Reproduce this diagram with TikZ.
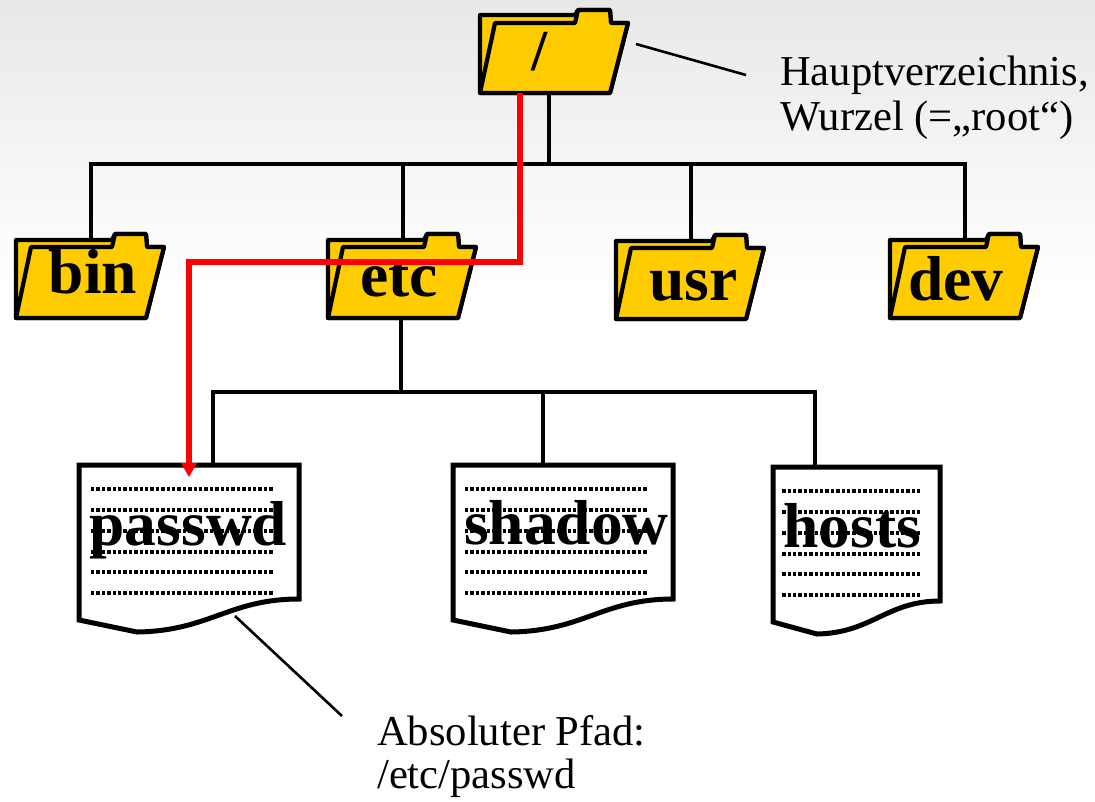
\documentclass[tikz,border=0pt]{standalone}
\usepackage{fontspec}
\setmainfont{Liberation Serif}
\usepackage{tikz}
\usetikzlibrary{positioning}
\definecolor{foldergold}{RGB}{255,204,0}
\definecolor{bgtop}{RGB}{232,232,232}
\tikzset{
	folderline/.style={draw=black, line width=4.2pt, line join=round, fill=foldergold},
	docline/.style={draw=black, line width=5pt, line join=miter, fill=white},
	textdots/.style={draw=black, line width=3.4pt, dash pattern=on 3.4pt off 2pt},
	branch/.style={draw=black, line width=4.2pt},
	leader/.style={draw=black, line width=2.6pt},
	pathline/.style={draw=red, line width=5.2pt},
	bigname/.style={font=\fontsize{63.5}{64}\selectfont\bfseries, inner sep=0pt, anchor=base},
	note/.style={font=\fontsize{42.6}{44}\selectfont, inner sep=0pt, anchor=base west},
}
% name, lower left corner, label position
\newcommand{\folder}[5]{
\begin{scope}[shift={(#2,#3)}]
	\draw[folderline] (0,0)--(0,-78)--(96,-78)--(99,-84)--(130,-84)--(131,-71)--(148,-71)--(130,0)--cycle;
	\draw[folderline] (0,0)--(15,-71)--(96,-71)--(99,-84)--(130,-84)--(131,-71)--(148,-71)--(130,0)--cycle;
\end{scope}
	\node[bigname] (#1) at (#4,#5) {#1};
}
% name, left, top, width, label position
\newcommand{\sheet}[6]{
\begin{scope}[shift={(#2,#3)}, xscale=#4/220]
	\draw[docline] (0,0)--(220,0)--(220,134) .. controls (150,134) and (130,166) .. (58,167)--(0,155)--cycle;
	\foreach \row in {24,45,66,87,107,128}
		\draw[textdots] (12,\row)--(194,\row);
\end{scope}
	\node[bigname] (#1) at (#5,#6) {#1};
}
\begin{document}
\begin{tikzpicture}[x=1pt,y=-1pt]
	\useasboundingbox (0,0) rectangle (1095,801);
	\shade[top color=bgtop, bottom color=white, draw=none] (0,0) rectangle (1095,285);

	\coordinate (hub) at (549,164);
	\coordinate (binhub) at (91,164);
	\coordinate (etchub) at (403,164);
	\coordinate (usrhub) at (691,164);
	\coordinate (devhub) at (965,164);
	\coordinate (filehub) at (401,392);
	\coordinate (passwdhub) at (213,392);
	\coordinate (shadowhub) at (543,392);
	\coordinate (hostshub) at (815,392);
	\coordinate (rootstem) at (549,93);
	\coordinate (etcstem) at (401,318);
	\coordinate (binstem) at (91,240);
	\coordinate (etcdrop) at (403,240);
	\coordinate (usrdrop) at (691,240);
	\coordinate (devdrop) at (965,240);
	\coordinate (passwdstem) at (213,465);
	\coordinate (shadowstem) at (543,465);
	\coordinate (hostsstem) at (815,466);

	\draw[branch] (rootstem)--(hub);
	\draw[branch] (binstem)--(binhub)--(devhub)--(devdrop);
	\draw[branch] (etchub)--(etcdrop);
	\draw[branch] (usrhub)--(usrdrop);
	\draw[branch] (etcstem)--(filehub);
	\draw[branch] (passwdstem)--(passwdhub)--(hostshub)--(hostsstem);
	\draw[branch] (shadowhub)--(shadowstem);

	\folder{bin}{16}{318}{93}{293}
	\folder{etc}{328}{318}{399}{296}
	\folder{usr}{616}{319}{693.5}{300}
	\folder{dev}{890}{318}{956}{300}

	\begin{scope}[shift={(480,93)}]
		\draw[folderline] (0,0)--(0,-78)--(95,-78)--(98,-83)--(130,-83)--(131,-70)--(148,-70)--(130,0)--cycle;
		\draw[folderline] (0,0)--(15,-70)--(95,-70)--(98,-83)--(130,-83)--(131,-70)--(148,-70)--(130,0)--cycle;
	\end{scope}
	\node[font=\fontsize{58}{58}\selectfont\bfseries, inner sep=0pt, anchor=base] (rootname) at (540,70) {/};

	\sheet{passwd}{79}{465}{220}{188.5}{545}
	\sheet{shadow}{453}{465}{220}{566.5}{544}
	\sheet{hosts}{773}{467}{167}{852.5}{547}

	\coordinate (redstart) at (520,93);
	\coordinate (redknee) at (520,262);
	\coordinate (redbend) at (189,262);
	\coordinate (redend) at (189,464);
	\coordinate (redtip) at (189,477);
	\draw[pathline] (redstart)--(redknee)--(redbend)--(redend);
	\fill[red] (181,463)--(197,463)--(redtip)--cycle;

	\node[note] (mainnote) at (780,85) {Hauptverzeichnis,};
	\node[note] (rootnote) at (780,130) {Wurzel (=„root“)};
	\node[note] (pathnote) at (377,745) {Absoluter Pfad:};
	\node[note] (pathvalue) at (377,788) {/etc/passwd};

	\coordinate (mainleader) at (636,44);
	\coordinate (mainleaderend) at (746,75);
	\coordinate (pathleader) at (235,616);
	\coordinate (pathleaderend) at (342,716);
	\draw[leader] (mainleader)--(mainleaderend);
	\draw[leader] (pathleader)--(pathleaderend);
\end{tikzpicture}
\end{document}
